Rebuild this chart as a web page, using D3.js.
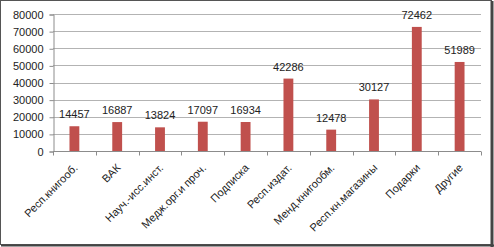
<!DOCTYPE html>
<html>
<head>
<meta charset="utf-8">
<script src="https://cdn.jsdelivr.net/npm/d3@7"></script>
<style>
  body { margin: 0; background: #fff; }
  svg { display: block; font-family: "Liberation Sans", Arial, sans-serif; }
</style>
</head>
<body>
<svg id="chart" width="494" height="247"></svg>
<script>
var categories = ["Респ.книгооб.", "ВАК", "Науч.-исс.инст.", "Медж.орг.и проч.", "Подписка",
                  "Респ.издат.", "Менд.книгообм.", "Респ.кн.магазины", "Подарки", "Другие"];
var values = [14457, 16887, 13824, 17097, 16934, 42286, 12478, 30127, 72462, 51989];
var yTicks = [0, 10000, 20000, 30000, 40000, 50000, 60000, 70000, 80000];

var width = 494, height = 247;
var margin = { left: 53, right: 13, top: 14, bottom: 96 };

var svg = d3.select("#chart");

// frame
svg.append("rect")
    .attr("x", 0.5).attr("y", 0.5)
    .attr("width", width - 3).attr("height", height - 3)
    .attr("fill", "#fff")
    .attr("stroke", "#555");
svg.append("line")
    .attr("x1", width - 2).attr("x2", width - 2)
    .attr("y1", 1).attr("y2", height)
    .attr("stroke", "#444").attr("stroke-width", 3);
svg.append("line")
    .attr("x1", 1).attr("x2", width)
    .attr("y1", height - 1.5).attr("y2", height - 1.5)
    .attr("stroke", "#444").attr("stroke-width", 2);

var x = d3.scaleBand()
    .domain(categories)
    .range([margin.left, width - margin.right])
    .paddingInner(0.77)
    .paddingOuter(0.385);

var y = d3.scaleLinear()
    .domain([0, 80000])
    .range([height - margin.bottom, margin.top]);

// gridlines
svg.append("g")
    .selectAll("line")
    .data(yTicks.slice(1))
    .join("line")
    .attr("x1", margin.left).attr("x2", width - margin.right)
    .attr("y1", function(d) { return Math.round(y(d)) + 0.5; })
    .attr("y2", function(d) { return Math.round(y(d)) + 0.5; })
    .attr("stroke", "#b3b3b3");

// y axis
var yAxis = svg.append("g")
    .attr("transform", "translate(" + (margin.left + 0.5) + ",0.5)")
    .call(d3.axisLeft(y).tickValues(yTicks).tickSize(4).tickPadding(6).tickFormat(d3.format("d")));
yAxis.select(".domain").attr("stroke", "#8c8c8c");
yAxis.selectAll(".tick line").attr("stroke", "#8c8c8c");
yAxis.selectAll("text").attr("fill", "#222").style("font-size", "11px");

// bars
svg.append("g")
    .selectAll("rect")
    .data(values)
    .join("rect")
    .attr("x", function(d, i) { return x(categories[i]); })
    .attr("width", x.bandwidth())
    .attr("y", function(d) { return y(d); })
    .attr("height", function(d) { return y(0) - y(d); })
    .attr("fill", "#c0504d");

// value labels
svg.append("g")
    .selectAll("text")
    .data(values)
    .join("text")
    .attr("x", function(d, i) { return x(categories[i]) + x.bandwidth() / 2; })
    .attr("y", function(d) { return y(d) - 8; })
    .attr("text-anchor", "middle")
    .attr("fill", "#222")
    .style("font-size", "11px")
    .text(function(d) { return d; });

// x axis line and boundary ticks
var step = x.step();
var x0 = margin.left;
var axisY = Math.round(y(0)) + 0.5;
svg.append("line")
    .attr("x1", x0).attr("x2", width - margin.right)
    .attr("y1", axisY).attr("y2", axisY)
    .attr("stroke", "#8c8c8c");
svg.append("g")
    .selectAll("line")
    .data(d3.range(categories.length + 1))
    .join("line")
    .attr("x1", function(i) { return Math.round(x0 + i * step) + 0.5; })
    .attr("x2", function(i) { return Math.round(x0 + i * step) + 0.5; })
    .attr("y1", axisY).attr("y2", axisY + 4)
    .attr("stroke", "#8c8c8c");

// category labels
svg.append("g")
    .selectAll("text")
    .data(categories)
    .join("text")
    .attr("transform", function(d) {
        return "translate(" + (x(d) + x.bandwidth() / 2 + 4) + "," + (axisY + 17) + ") rotate(-45)";
    })
    .attr("text-anchor", "end")
    .attr("fill", "#222")
    .style("font-size", "11px")
    .text(function(d) { return d; });
</script>
</body>
</html>
